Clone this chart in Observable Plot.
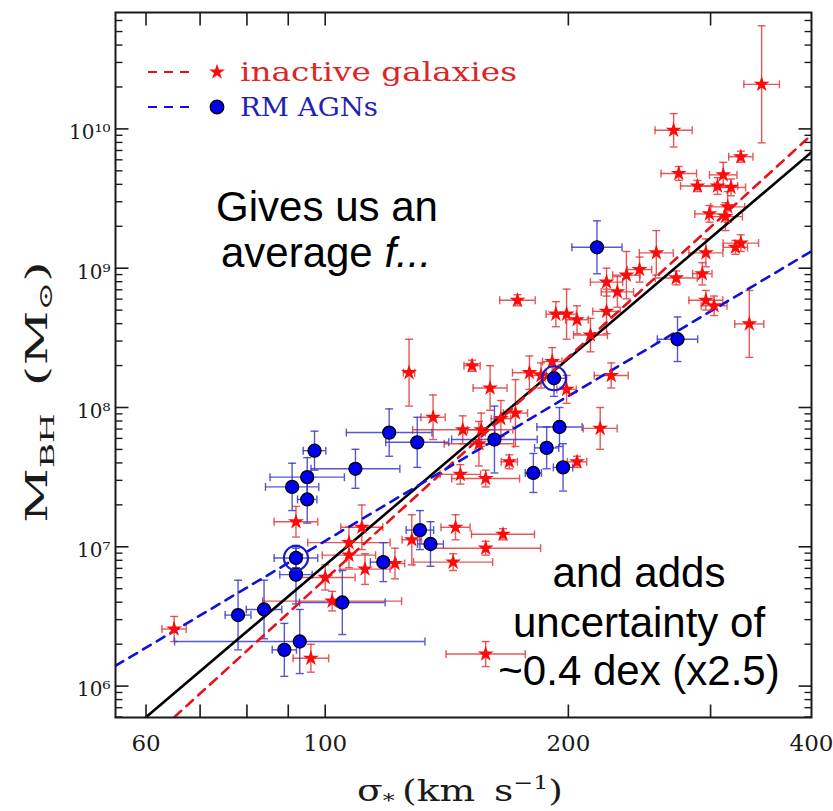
<!DOCTYPE html>
<html>
<head>
<meta charset="utf-8">
<script src="https://cdn.jsdelivr.net/npm/d3@7"></script>
<script src="https://cdn.jsdelivr.net/npm/@observablehq/plot@0.6"></script>
<style>
  body { margin: 0; background: #fff; }
  #chart { width: 833px; height: 811px; }
</style>
</head>
<body>
<div id="chart"></div>
<script>
// ---- Inactive galaxies: sigma (km/s), sigma error (dex), log10 M_BH, M_BH error (dex)
const inactiveSigma = [347, 270, 327, 274, 289, 306, 311, 318, 315, 299, 313, 327, 322, 296, 257,
  245, 236, 223, 230, 272, 293, 296, 303, 335, 223, 213, 199, 205, 193, 173,
  127, 152, 160, 179, 185, 191, 199, 226, 136, 148, 156, 155, 165, 172, 219,
  169, 205, 147, 158, 92, 111, 107, 107, 112, 100, 102, 65, 96, 122, 128,
  145, 144, 158, 166, 158];
const inactiveSigmaErr = [0.022, 0.023, 0.015, 0.022, 0.021, 0.025, 0.017, 0.018, 0.021, 0.018, 0.021, 0.022, 0.015, 0.021, 0.021,
  0.015, 0.017, 0.020, 0.020, 0.026, 0.012, 0.021, 0.016, 0.018, 0.017, 0.021, 0.012, 0.014, 0.012, 0.022,
  0.007, 0.010, 0.021, 0.021, 0.015, 0.012, 0.012, 0.021, 0.015, 0.062, 0.017, 0.043, 0.012, 0.015, 0.021,
  0.010, 0.012, 0.025, 0.042, 0.027, 0.026, 0.051, 0.033, 0.031, 0.037, 0.086, 0.015, 0.022, 0.012, 0.012,
  0.018, 0.049, 0.068, 0.039, 0.049];
const inactiveLogM = [10.32, 9.99, 9.80, 9.68, 9.59, 9.59, 9.67, 9.58, 9.44, 9.39, 9.37, 9.18, 9.15, 9.11, 9.11,
  8.99, 8.95, 8.90, 8.83, 8.93, 8.96, 8.77, 8.73, 8.60, 8.69, 8.52, 8.67, 8.63, 8.67, 8.77,
  8.25, 8.30, 8.14, 8.25, 8.23, 8.33, 8.13, 8.23, 7.93, 7.84, 7.84, 7.74, 7.92, 7.96, 7.85,
  7.61, 7.61, 7.52, 7.49, 7.18, 7.14, 7.03, 6.94, 6.84, 6.78, 6.61, 6.41, 6.20, 6.88, 7.05,
  7.14, 6.89, 6.99, 7.09, 6.23];
const inactiveLogMErr = [0.42, 0.12, 0.04, 0.05, 0.04, 0.06, 0.09, 0.06, 0.11, 0.06, 0.10, 0.06, 0.05, 0.10, 0.16,
  0.09, 0.17, 0.10, 0.11, 0.05, 0.08, 0.07, 0.07, 0.24, 0.16, 0.12, 0.18, 0.10, 0.09, 0.04,
  0.24, 0.04, 0.16, 0.12, 0.09, 0.10, 0.10, 0.09, 0.16, 0.10, 0.12, 0.16, 0.13, 0.24, 0.15,
  0.05, 0.04, 0.07, 0.06, 0.11, 0.16, 0.11, 0.09, 0.11, 0.09, 0.07, 0.09, 0.10, 0.11, 0.18,
  0.09, 0.06, 0.05, 0.04, 0.09];

// ---- Reverberation-mapped AGNs: same columns
const agnSigma = [217, 273, 192, 120, 130, 97, 109, 95, 91, 95, 162, 195, 188, 197, 181,
  131, 135, 118, 92, 92, 105, 78, 84, 89, 93];
const agnSigmaErr = [0.031, 0.025, 0.015, 0.053, 0.039, 0.014, 0.055, 0.046, 0.033, 0.012, 0.053, 0.028, 0.015, 0.012, 0.010,
  0.017, 0.016, 0.016, 0.027, 0.020, 0.053, 0.016, 0.022, 0.015, 0.155];
const agnLogM = [9.15, 8.49, 8.21, 7.82, 7.75, 7.69, 7.56, 7.50, 7.43, 7.34, 7.77, 7.86, 7.71, 7.57, 7.53,
  7.12, 7.02, 6.89, 6.92, 6.80, 6.60, 6.51, 6.55, 6.26, 6.32];
const agnLogMErr = [0.19, 0.16, 0.13, 0.17, 0.18, 0.14, 0.14, 0.14, 0.17, 0.17, 0.24, 0.14, 0.15, 0.17, 0.14,
  0.14, 0.16, 0.14, 0.07, 0.21, 0.23, 0.25, 0.21, 0.19, 0.23];
// AGNs drawn with an extra ring
const agnRinged = [2, 18];

// ---- Fitted relations: log M = a + b log(sigma / 200 km/s)
const fitNames = ["all", "inactive", "agn"];
const fitIntercept = [8.351, 8.362, 8.082];
const fitSlope = [4.923, 5.298, 3.454];
const fitColor = ["#000000", "#e8121a", "#1010d8"];
const fitDash = [null, "9,7", "9,7"];

// ---- Axes
const xDomain = [55, 400];
const yDomain = [5.95e5, 6.85e10];
const xTicks = [60, 70, 80, 90, 100, 200, 300];
const xTickLabels = [60, 100, 200, 400];
const yDecades = [6, 7, 8, 9, 10];
const yMinorSteps = [2, 3, 4, 5, 6, 7, 8, 9];

const legendLabels = ["inactive galaxies", "RM AGNs"];

// ---- Tables
const rows = (sig, sErr, lm, lmErr) => sig.map((s, i) => ({
  sigma: s,
  sLo: s / 10 ** sErr[i], sHi: s * 10 ** sErr[i],
  m: 10 ** lm[i], mLo: 10 ** (lm[i] - lmErr[i]), mHi: 10 ** (lm[i] + lmErr[i])
}));
const inactive = rows(inactiveSigma, inactiveSigmaErr, inactiveLogM, inactiveLogMErr);
const agn = rows(agnSigma, agnSigmaErr, agnLogM, agnLogMErr);
const ringed = agnRinged.map(i => agn[i]);

const fitLines = fitNames.map((name, k) => ({
  name, color: fitColor[k], dash: fitDash[k],
  pts: xDomain.map(s => ({sigma: s, m: 10 ** (fitIntercept[k] + fitSlope[k] * Math.log10(s / 200))}))
}));

const yMajor = yDecades.map(e => 10 ** e);
const yMinor = [5, ...yDecades].flatMap(e => yMinorSteps.map(k => k * 10 ** e))
  .filter(v => v > yDomain[0] && v < yDomain[1]);

const sup = {"0": "\u2070", "1": "\u00b9", "2": "\u00b2", "3": "\u00b3", "4": "\u2074",
  "5": "\u2075", "6": "\u2076", "7": "\u2077", "8": "\u2078", "9": "\u2079", "-": "\u207b"};
const pow10 = v => "10" + String(Math.round(Math.log10(v))).split("").map(c => sup[c]).join("");

// error-bar caps
const capH = {draw(ctx, size) { const r = Math.sqrt(size / Math.PI); ctx.moveTo(-r, 0); ctx.lineTo(r, 0); }};
const capV = {draw(ctx, size) { const r = Math.sqrt(size / Math.PI); ctx.moveTo(0, -r); ctx.lineTo(0, r); }};
// inward frame ticks: a short stroke from the frame edge
const tickSym = (dx, dy) => ({draw(ctx) { ctx.moveTo(0, 0); ctx.lineTo(dx, dy); }});

const redBar = "#e0393c";
const blueBar = "#3a3ac8";
const ink = "#1a1a1a";

function errorBars(data, color) {
  const o = {stroke: color, strokeWidth: 1.4, strokeOpacity: 0.85};
  return [
    Plot.ruleX(data, {x: "sigma", y1: "mLo", y2: "mHi", ...o}),
    Plot.ruleY(data, {y: "m", x1: "sLo", x2: "sHi", ...o}),
    Plot.dot(data, {x: "sigma", y: "mLo", symbol: capH, r: 4, fill: "none", ...o}),
    Plot.dot(data, {x: "sigma", y: "mHi", symbol: capH, r: 4, fill: "none", ...o}),
    Plot.dot(data, {x: "sLo", y: "m", symbol: capV, r: 4, fill: "none", ...o}),
    Plot.dot(data, {x: "sHi", y: "m", symbol: capV, r: 4, fill: "none", ...o})
  ];
}

function frameTicks(values, channel, anchor, len, width) {
  const sym = {bottom: tickSym(0, -len), top: tickSym(0, len), left: tickSym(len, 0), right: tickSym(-len, 0)}[anchor];
  return Plot.dot(values, {[channel]: d => d, frameAnchor: anchor, symbol: sym,
    fill: "none", stroke: ink, strokeWidth: width});
}

const chart = Plot.plot({
  width: 833, height: 811,
  marginLeft: 115, marginRight: 22, marginTop: 12, marginBottom: 94,
  style: {fontFamily: "'DejaVu Serif', serif", background: "#fff", color: ink},
  x: {type: "log", domain: xDomain},
  y: {type: "log", domain: yDomain},
  marks: [
    ...errorBars(inactive, redBar),
    ...errorBars(agn, blueBar),
    ...fitLines.map(f => Plot.line(f.pts, {
      x: "sigma", y: "m", stroke: f.color, strokeWidth: 2.6,
      strokeDasharray: f.dash, clip: true
    })),
    Plot.dot(inactive, {x: "sigma", y: "m", symbol: "star", r: 5, fill: "#ff0a0a", stroke: "none"}),
    Plot.dot(agn, {x: "sigma", y: "m", r: 6.5, fill: "#0000f0", stroke: "#000", strokeWidth: 1.3}),
    Plot.dot(ringed, {x: "sigma", y: "m", r: 12, fill: "none", stroke: "#1a1ad0", strokeWidth: 2.2}),
    // inward ticks on all four sides
    frameTicks(xTicks, "x", "bottom", 13, 1.6),
    frameTicks(xTicks, "x", "top", 13, 1.6),
    frameTicks(yMajor, "y", "left", 13, 1.6),
    frameTicks(yMinor, "y", "left", 7, 1.4),
    frameTicks(yMajor, "y", "right", 13, 1.6),
    frameTicks(yMinor, "y", "right", 7, 1.4),
    // tick labels
    Plot.axisX(xTickLabels, {anchor: "bottom", tickSize: 0, tickPadding: 17, fontSize: 23,
      tickFormat: d => String(d), label: null}),
    Plot.axisY(yMajor, {anchor: "left", tickSize: 0, tickPadding: 5, fontSize: 20, dy: 4,
      tickFormat: pow10, label: null}),
    Plot.frame({stroke: ink, strokeWidth: 2})
  ]
});

document.getElementById("chart").appendChild(chart);
const svg = d3.select(chart);

// axis titles
const serif = "'DejaVu Serif', serif";
const xt = svg.append("text")
  .attr("x", 460).attr("y", 801).attr("text-anchor", "middle")
  .attr("font-family", serif).attr("font-size", 30).attr("fill", ink)
  .attr("textLength", 206).attr("lengthAdjust", "spacingAndGlyphs");
xt.append("tspan").text("\u03c3");
xt.append("tspan").attr("font-size", 19).attr("dy", 6).text("*");
xt.append("tspan").attr("dy", -6).text("\u2009(km\u2002s");
xt.append("tspan").attr("font-size", 19).attr("dy", -12).text("\u22121");
xt.append("tspan").attr("dy", 12).text(")");

const yt = svg.append("text")
  .attr("transform", "translate(47,392) rotate(-90)").attr("text-anchor", "middle")
  .attr("font-family", serif).attr("font-size", 30).attr("fill", ink)
  .attr("textLength", 262).attr("lengthAdjust", "spacingAndGlyphs");
yt.append("tspan").text("M");
yt.append("tspan").attr("font-size", 19).attr("dy", 7).text("BH");
yt.append("tspan").attr("dy", -7).text("\u2002(M");
yt.append("tspan").attr("font-size", 19).attr("dy", 5).text("\u2299");
yt.append("tspan").attr("dy", -5).text(")");

// legend inside the frame
const legend = svg.append("g").attr("text-anchor", "start");
const legColors = [{line: "#e8121a", text: "#dc2626"}, {line: "#1010d8", text: "#1e22b8"}];
const legWidths = [277, 138];
legendLabels.forEach((label, i) => {
  const y = 72 + i * 35;
  legend.append("line").attr("x1", 148).attr("x2", 192).attr("y1", y).attr("y2", y)
    .attr("stroke", legColors[i].line).attr("stroke-width", 2.2).attr("stroke-dasharray", "9,7");
  if (i === 0) {
    legend.append("path").attr("d", d3.symbol(d3.symbolStar, Math.PI * 25)())
      .attr("transform", `translate(217,${y})`).attr("fill", "#ff0a0a");
  } else {
    legend.append("circle").attr("cx", 217).attr("cy", y).attr("r", 6.8)
      .attr("fill", "#0000f0").attr("stroke", "#000").attr("stroke-width", 1.3);
  }
  legend.append("text").attr("x", 240).attr("y", y + 8.5).attr("text-anchor", "start")
    .attr("font-family", serif).attr("font-size", 26).attr("fill", legColors[i].text)
    .attr("textLength", legWidths[i]).attr("lengthAdjust", "spacingAndGlyphs")
    .text(label);
});

// annotations
const sans = "'Liberation Sans', Arial, sans-serif";
const note = (x, y, parts) => {
  const t = svg.append("text").attr("x", x).attr("y", y).attr("text-anchor", "middle")
    .attr("font-family", sans).attr("font-size", 42).attr("fill", "#000");
  parts.forEach(([s, italic]) => t.append("tspan").attr("font-style", italic ? "italic" : null).text(s));
};
note(327, 221, [["Gives us an"]]);
note(326, 267, [["average "], ["f...", true]]);
note(639, 587, [["and adds"]]);
note(639, 637, [["uncertainty of"]]);
note(639, 685, [["~0.4 dex (x2.5)"]]);
</script>
</body>
</html>
